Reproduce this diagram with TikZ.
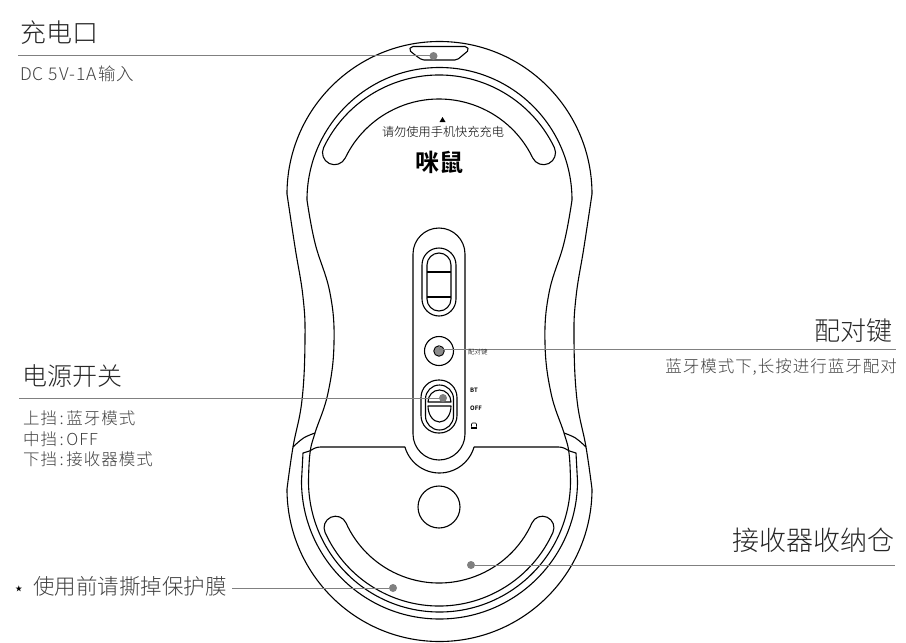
\documentclass[tikz,border=0pt]{standalone}
\usepackage{fontspec}
\setmainfont{Noto Sans CJK SC Light}
\newfontfamily\labelfont[LetterSpace=6]{Noto Sans CJK SC Light}
\newfontfamily\markfont{Noto Sans CJK SC Bold}
\newcommand{\gapcolon}{\kern2.5pt:\kern2.5pt}
\usepackage{tikz}
\begin{document}
\begin{tikzpicture}[
	x=1pt, y=-1pt,
	shell/.style={line width=1.1pt, line join=round},
	leader/.style={draw=black!50, line width=.8pt},
	pin/.style={circle, fill=black!50, inner sep=0pt, minimum size=8pt},
	title/.style={font=\fontsize{26}{28}\selectfont, text=black!85, inner sep=0pt},
	note/.style={font=\fontsize{16.5}{20.5}\labelfont, text=black!75, inner sep=0pt, align=left},
	tiny/.style={font=\fontsize{6}{7}\markfont, inner sep=0pt},
	]
\useasboundingbox (0,0) rectangle (906,643);
% body
\begin{scope}[shell]
	\draw (439.5,194) ++(180:152.5) arc[start angle=180, end angle=360, radius=152.5];
	\draw (439.5,489) ++(180:152.5) arc[start angle=180, end angle=0, radius=152.5];
	\draw (439.5,200) ++(180:132.5) arc[start angle=180, end angle=360, radius=132.5];
	\draw (439.5,481) ++(180:131) arc[start angle=180, end angle=0, radius=131];
	\draw (439.5,481) ++(180:138) arc[start angle=180, end angle=0, radius=138];
	\foreach \s in {1,-1} {
		\begin{scope}[xshift=439.5pt, xscale=\s]
			\draw plot[smooth, tension=.7] coordinates {(-152.5,194) (-144.5,247) (-136.5,297) (-134.5,340) (-137.5,400) (-146.5,447) (-152.5,489)};
			\draw plot[smooth, tension=.7] coordinates {(-132.5,200) (-124.5,243) (-109.5,293) (-105.5,343) (-111.5,393) (-124.5,433) (-129.5,453) (-131,481)};
			\draw plot[smooth, tension=.6] coordinates {(-146.5,447) (-136,438) (-124.5,433)};
			\draw (-138,481) -- (-136.5,453) -- (-130,451) .. controls (-126,449) and (-124,447) .. (-119,447) -- (-34.5,447);
		\end{scope}
	}
	% cover dip
	\draw (439.5,437) ++(164:36) arc[start angle=164, end angle=16, radius=36];
	% charge port
	\draw[rounded corners=2pt] (411,46.5) -- (467,46.5) -- (469,50) -- (463,55) -- (457,60) -- (422,60) -- (415,55) -- (409,50) -- cycle;
	% upper grip
	\draw (439,203) ++(205.7:128) arc[start angle=205.7, end angle=334.3, radius=128]
		arc[start angle=334.3, end angle=514.3, radius=12]
		arc[start angle=334.3, end angle=205.7, radius=104]
		arc[start angle=25.7, end angle=205.7, radius=12];
	% lower grip
	\draw (439,481) ++(155.7:125) arc[start angle=155.7, end angle=24.3, radius=125]
		arc[start angle=24.3, end angle=-155.7, radius=11.5]
		arc[start angle=24.3, end angle=155.7, radius=102]
		arc[start angle=-24.3, end angle=-204.3, radius=11.5];
	\draw (439,507) circle[radius=21];
	% centre plate
	\draw[rounded corners=26pt] (413,228) rectangle (465,460);
	\draw[rounded corners=17pt] (422,248) rectangle (456,316);
	\draw[rounded corners=12pt] (427,253) rectangle (451,311);
	\draw (427,272) -- (451,272);
	\draw (427,297) -- (451,297);
	% switch
	\draw[rounded corners=17.5pt] (421,380) rectangle (457,433);
	\draw[rounded corners=14pt] (425.5,385) rectangle (453.5,430);
	\draw (428,402) arc[start angle=180, end angle=360, x radius=11.5, y radius=12] -- cycle;
	\draw (428,406) -- (451,406) arc[start angle=0, end angle=180, x radius=11.5, y radius=16] -- cycle;
	% pairing button
	\draw (439,351) circle[radius=14.5];
\end{scope}
\node (pairbtn) [circle, draw, fill=black!45, line width=.9pt, minimum size=10.5pt, inner sep=0pt] at (439,351) {};
% small marks
\fill (442.5,117) -- (445.5,122) -- (439.5,122) -- cycle;
\fill (471,426.5) rectangle (477,428.5);
\draw[line width=.6pt, rounded corners=1pt] (471.5,426.5) -- (471.5,423) -- (476.5,423) -- (476.5,426.5);
% pins and leaders
\node (portpin) [pin] at (433.5,56) {};
\node (powerpin) [pin] at (443,398) {};
\node (boxpin) [pin] at (471,565) {};
\node (filmpin) [pin] at (393,588) {};
\coordinate (portend) at (18,55);
\coordinate (powerend) at (19,398.5);
\coordinate (pairend) at (896,349);
\coordinate (boxend) at (895,565);
\coordinate (filmend) at (232,588);
\draw[leader] (portend) -- (portend -| portpin);
\draw[leader] (powerend) -- (powerend -| powerpin);
\draw[leader] (pairbtn) |- (pairend);
\draw[leader] (boxpin) -- (boxend);
\draw[leader] (filmend) -- (filmpin);
% labels
\node (port) [title, anchor=west] at (20,33) {充电口};
\node (portnote) [note, anchor=west, font=\fontsize{17.5}{20}\labelfont] at (20,74) {DC 5V-1A输入};
\node (power) [title, anchor=west, font=\fontsize{25}{27}\selectfont] at (22,376) {电源开关};
\node (powernote) [note, anchor=north west] at (23,411) {上挡\gapcolon 蓝牙模式\\中挡\gapcolon OFF\\下挡\gapcolon 接收器模式};
\node (pair) [title, anchor=east] at (893,331) {配对键};
\node (pairnote) [note, anchor=east] at (897,367) {蓝牙模式下,长按进行蓝牙配对};
\node (box) [title, anchor=east, font=\fontsize{27}{29}\selectfont] at (895,540) {接收器收纳仓};
\node (star) [inner sep=0pt, font=\fontsize{7}{8}\selectfont] at (19,589) {★};
\node (film) [font=\fontsize{21.5}{24}\selectfont, text=black!75, inner sep=0pt, anchor=west] at (33,586) {使用前请撕掉保护膜};
\node (warn) [font=\fontsize{12.2}{14}\selectfont, inner sep=0pt] at (443,132) {请勿使用手机快充充电};
\node (brand) [font=\fontsize{24}{26}\markfont, inner sep=0pt] at (439,162) {咪鼠};
\node (pairtag) [font=\fontsize{6.5}{7}\selectfont, inner sep=0pt, anchor=west] at (468,352) {配对键};
\node (bt) [tiny, anchor=west] at (470,390) {BT};
\node (off) [tiny, anchor=west] at (470,408) {OFF};
\end{tikzpicture}
\end{document}
